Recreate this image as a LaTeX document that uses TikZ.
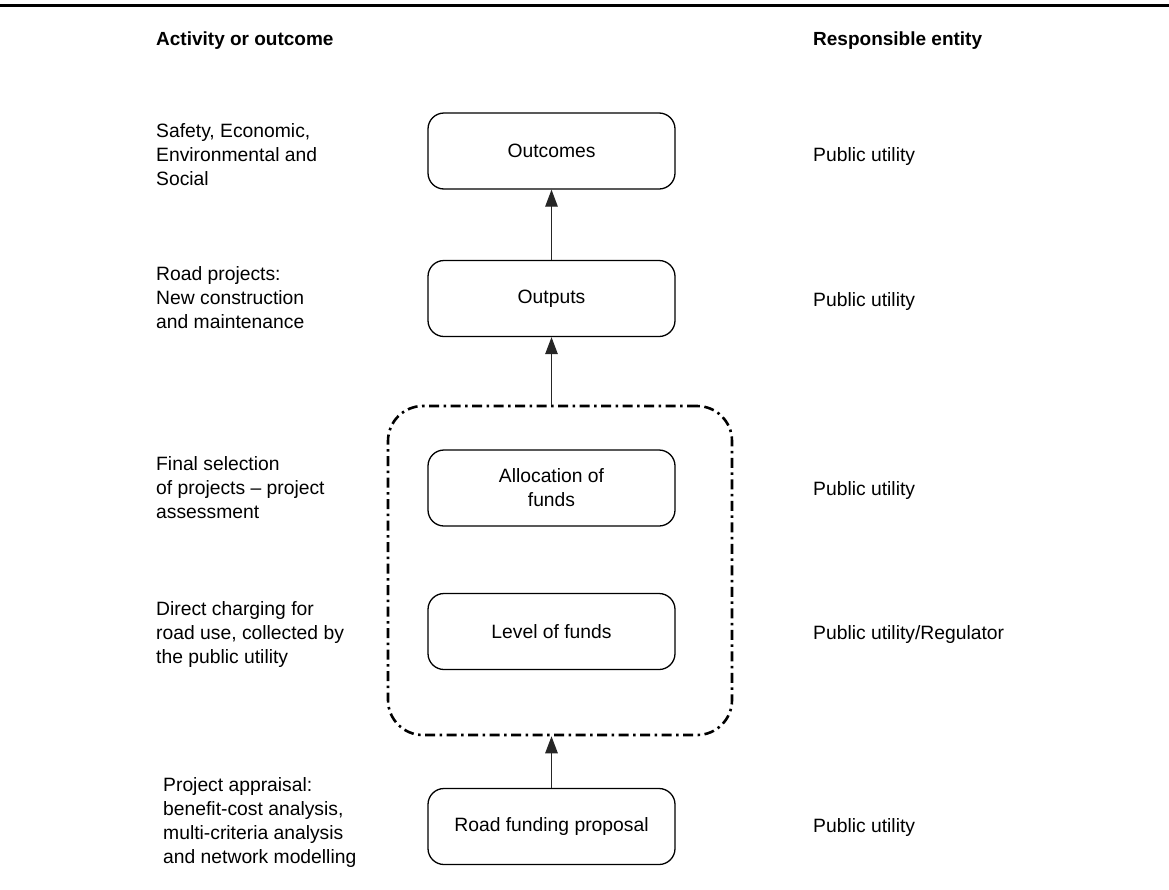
\documentclass[tikz,border=0pt]{standalone}
\usepackage{fontspec}
\setmainfont{Liberation Sans}
\usetikzlibrary{arrows.meta}
\begin{document}
\begin{tikzpicture}[x=1pt,y=-1pt,
  txt/.style={font=\fontsize{19.3}{24}\selectfont, inner sep=0pt},
  lefttext/.style={txt, align=left, anchor=north west},
  righttext/.style={txt, anchor=base west},
  header/.style={inner sep=0pt, font=\fontsize{19}{24}\selectfont\bfseries, anchor=base west},
  stage/.style={draw, line width=1.3pt, rounded corners=16pt, minimum width=247pt,
    minimum height=76pt, align=center, font=\fontsize{19.3}{24}\selectfont, inner sep=0pt},
  flow/.style={draw=black!85, line width=1.2pt, -{Triangle[length=17pt,width=12.5pt]}},
  groupbox/.style={draw, line width=2.6pt, rounded corners=35pt,
    dash pattern=on 10pt off 4.5pt on 2.5pt off 4.5pt, minimum width=344pt, minimum height=329pt,
    inner sep=0pt}
]
\useasboundingbox (0,0) rectangle (1169,889);

% top rule
\coordinate (ruleL) at (0,5.5);
\coordinate (ruleR) at (1169,5.5);
\draw[line width=3pt] (ruleL) -- (ruleR);

% column headers
\node[header] (hleft) at (156,45) {Activity or outcome};
\node[header] (hright) at (813,45) {Responsible entity};

% grouping frame around allocation and level of funds
\node[groupbox] (group) at (560,570.5) {};

% process stages
\node[stage] (outcomes) at (551.5,151) {Outcomes};
\node[stage] (outputs) at (551.5,298.5) {Outputs};
\node[stage] (alloc) at (551.5,488) {Allocation of\\funds};
\node[stage] (level) at (551.5,631.5) {Level of funds};
\node[stage] (road) at (551.5,826.5) {Road funding proposal};

% flow arrows
\draw[flow] (outputs.north) -- (outcomes.south);
\draw[flow] (outputs.south |- group.north) -- (outputs.south);
\draw[flow] (road.north) -- (road.north |- group.south);

% activity / outcome descriptions
\node[lefttext] (a1) at (156,120.2) {\strut Safety, Economic,\\Environmental and\\Social};
\node[lefttext] (a2) at (156,263.2) {\strut Road projects:\\New construction\\and maintenance};
\node[lefttext] (a3) at (156,453.2) {\strut Final selection\\of projects -- project\\assessment};
\node[lefttext] (a4) at (156,598.2) {\strut Direct charging for\\road use, collected by\\the public utility};
\node[lefttext] (a5) at (163,774.2) {\strut Project appraisal:\\benefit-cost analysis,\\multi-criteria analysis\\and network modelling};

% responsible entities
\node[righttext] (r1) at (813,161) {Public utility};
\node[righttext] (r2) at (813,306) {Public utility};
\node[righttext] (r3) at (813,495) {Public utility};
\node[righttext] (r4) at (813,639) {Public utility/Regulator};
\node[righttext] (r5) at (813,832) {Public utility};
\end{tikzpicture}
\end{document}
